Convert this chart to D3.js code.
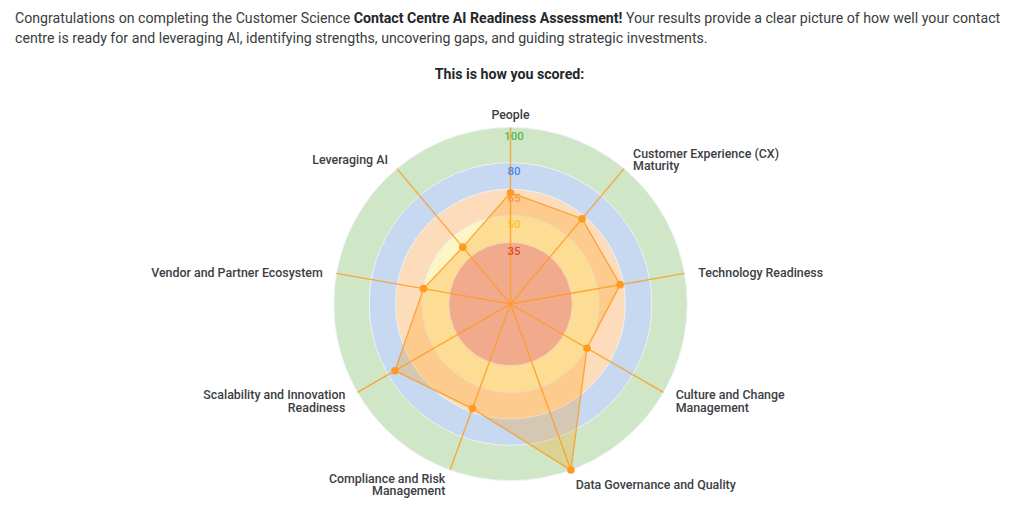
<!DOCTYPE html>
<html>
<head>
<meta charset="utf-8">
<script src="https://cdn.jsdelivr.net/npm/d3@7"></script>
<style>
  html, body { margin: 0; padding: 0; background: #fff; }
  svg { display: block; font-family: Roboto, sans-serif; }
  .intro { font-size: 14.17px; fill: #3a3d40; }
  .intro .strong { font-weight: 700; fill: #24272a; }
  .heading { font-size: 14.2px; font-weight: 700; fill: #24272a; text-anchor: middle; }
  .axisLabel { font-size: 12.4px; font-weight: 500; fill: #3c4043; }
  .tick { font-size: 11.5px; font-weight: 500; text-anchor: middle; }
</style>
</head>
<body>
<svg id="chart" width="1024" height="517"></svg>
<script>
const categories = [
  ['People'],
  ['Customer Experience (CX)', 'Maturity'],
  ['Technology Readiness'],
  ['Culture and Change', 'Management'],
  ['Data Governance and Quality'],
  ['Compliance and Risk', 'Management'],
  ['Scalability and Innovation', 'Readiness'],
  ['Vendor and Partner Ecosystem'],
  ['Leveraging AI'],
]
const scores = [63, 63, 63, 50, 100, 63, 75.5, 50, 42]

const bandValues = [100, 80, 65, 50, 35]
const bandColors = ['#cfe6c7', '#c6d9f1', '#fddcbc', '#fcf5c6', '#eeb1bd']
const tickColors = ['#5bb54a', '#4a86e8', '#f79a3e', '#fbc32a', '#dd4b30']

const ORANGE = '#ff9a1f'
const cx = 510.5
const cy = 304

const svg = d3.select('#chart')

const intro = svg.append('g').classed('intro', true)
const line1 = intro.append('text').attr('x', 15).attr('y', 22.5)
line1.append('tspan').text('Congratulations on completing the Customer Science ')
line1.append('tspan').classed('strong', true).text('Contact Centre AI Readiness Assessment!')
line1.append('tspan').text(' Your results provide a clear picture of how well your contact')
intro.append('text').attr('x', 15).attr('y', 42.5)
  .text('centre is ready for and leveraging AI, identifying strengths, uncovering gaps, and guiding strategic investments.')

svg.append('text').classed('heading', true)
  .attr('x', 509.5).attr('y', 78.5)
  .text('This is how you scored:')

const r = d3.scaleLinear().domain([0, 100]).range([0, 176.7])
const angle = d3.scaleLinear().domain([0, categories.length]).range([0, 2 * Math.PI])

// polar to x/y relative to the centre, 0 rad is straight up
function polar(i, radius) {
  return [Math.sin(angle(i)) * radius, -Math.cos(angle(i)) * radius]
}

const plot = svg.append('g').attr('transform', `translate(${cx}, ${cy})`)

plot.append('g')
  .selectAll('circle')
  .data(bandValues)
  .join('circle')
  .attr('r', (d) => r(d))
  .attr('fill', (d, i) => bandColors[i])
  .attr('stroke', '#eef2f4')
  .attr('stroke-width', 1)

plot.append('path')
  .datum(scores)
  .attr('d', d3.lineRadial()
    .angle((d, i) => angle(i))
    .radius((d) => r(d))
    .curve(d3.curveLinearClosed))
  .attr('fill', 'rgba(255, 153, 0, 0.25)')
  .attr('stroke', ORANGE)
  .attr('stroke-opacity', 0.85)
  .attr('stroke-width', 1.3)

plot.append('g')
  .selectAll('line')
  .data(categories)
  .join('line')
  .attr('x2', (d, i) => polar(i, r(100))[0])
  .attr('y2', (d, i) => polar(i, r(100))[1])
  .attr('stroke', ORANGE)
  .attr('stroke-opacity', 0.85)
  .attr('stroke-width', 1.3)

plot.append('g')
  .selectAll('text')
  .data(bandValues)
  .join('text')
  .classed('tick', true)
  .attr('x', 3.5)
  .attr('y', (d) => -r(d) + 12.5)
  .attr('fill', (d, i) => tickColors[i])
  .text((d) => d)

plot.append('g')
  .selectAll('circle')
  .data(scores)
  .join('circle')
  .attr('cx', (d, i) => polar(i, r(d))[0])
  .attr('cy', (d, i) => polar(i, r(d))[1])
  .attr('r', 3.8)
  .attr('fill', ORANGE)

const labels = plot.append('g')
  .selectAll('text')
  .data(categories)
  .join('text')
  .classed('axisLabel', true)
  .attr('text-anchor', (d, i) => (i === 0 ? 'middle' : i < categories.length / 2 ? 'start' : 'end'))

labels.each(function (lines, i) {
  const [x, y] = polar(i, r(100) + 14)
  const top = y + 6 - ((lines.length - 1) * 12.3) / 2
  d3.select(this)
    .selectAll('tspan')
    .data(lines)
    .join('tspan')
    .attr('x', x)
    .attr('y', (d, j) => top + j * 12.3)
    .text((d) => d)
})
</script>
</body>
</html>
